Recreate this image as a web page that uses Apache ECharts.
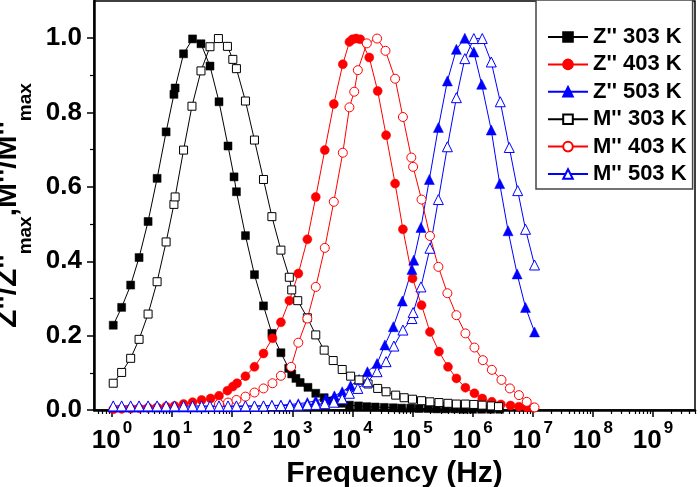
<!DOCTYPE html>
<html><head><meta charset="utf-8">
<script src="https://cdn.jsdelivr.net/npm/echarts@6/dist/echarts.min.js"></script>
<style>html,body{margin:0;padding:0;background:#fff}#c{width:700px;height:487px}</style>
</head><body><div id="c"></div>
<script>
// x values are log10(frequency / Hz)
const xMajorExponents = [0,1,2,3,4,5,6,7,8,9];
const yTickValues = [0,0.2,0.4,0.6,0.8,1.0];
const yMinorValues = [0.1,0.3,0.5,0.7,0.9];

const z303_logf = [0.02,0.16,0.31,0.45,0.60,0.75,0.90,1.03,1.05,1.19,1.34,1.48,1.63,1.78,1.93,2.03,2.07,2.22,2.37,2.52,2.66,2.81,2.94,2.99,3.06,3.13,3.26,3.39,3.53,3.67,3.82,3.95,4.10,4.24,4.38,4.53,4.68,4.82,4.97,5.11,5.26,5.40,5.55,5.70,5.85,6.00,6.15,6.30,6.45];
const z303_val  = [0.228,0.276,0.336,0.41,0.507,0.623,0.748,0.849,0.866,0.958,0.998,0.985,0.925,0.829,0.71,0.627,0.587,0.469,0.364,0.28,0.206,0.154,0.112,0.097,0.085,0.074,0.061,0.045,0.033,0.024,0.018,0.013,0.011,0.009,0.008,0.007,0.006,0.005,0.005,0.004,0.004,0.003,0.003,0.003,0.002,0.002,0.002,0.002,0.002];

const m303_logf = [0.02,0.16,0.31,0.45,0.60,0.75,0.90,1.03,1.05,1.19,1.33,1.48,1.63,1.77,1.92,2.01,2.07,2.22,2.37,2.52,2.66,2.81,2.95,2.99,3.09,3.25,3.39,3.53,3.68,3.83,3.97,4.11,4.26,4.42,4.56,4.72,4.86,5.00,5.15,5.29,5.44,5.59,5.73,5.88,6.02,6.16,6.31,6.43];
const m303_val  = [0.072,0.101,0.139,0.19,0.258,0.345,0.452,0.553,0.573,0.699,0.817,0.912,0.977,0.999,0.978,0.943,0.918,0.831,0.726,0.62,0.52,0.43,0.357,0.323,0.294,0.248,0.202,0.161,0.133,0.109,0.091,0.081,0.07,0.058,0.049,0.04,0.033,0.029,0.025,0.022,0.02,0.018,0.016,0.016,0.015,0.013,0.011,0.009];

const z403_logf = [0.02,0.16,0.31,0.45,0.60,0.75,0.90,1.04,1.19,1.34,1.49,1.64,1.78,1.92,2.01,2.08,2.22,2.37,2.52,2.67,2.81,2.95,3.10,3.25,3.39,3.54,3.69,3.84,3.95,4.00,4.06,4.13,4.28,4.42,4.56,4.71,4.84,5.00,5.15,5.29,5.44,5.59,5.73,5.88,6.03,6.16,6.32,6.47,6.63,6.77,6.90,7.01];
const z403_val  = [0.002,0.003,0.004,0.005,0.006,0.007,0.009,0.011,0.016,0.021,0.027,0.031,0.038,0.052,0.063,0.072,0.091,0.116,0.152,0.193,0.236,0.294,0.367,0.459,0.573,0.699,0.823,0.93,0.99,0.997,0.999,0.997,0.948,0.858,0.739,0.609,0.486,0.354,0.282,0.21,0.157,0.116,0.085,0.06,0.045,0.031,0.022,0.015,0.012,0.009,0.007,0.006];

const m403_logf = [1.78,1.93,2.07,2.22,2.37,2.52,2.67,2.81,2.98,3.10,3.25,3.39,3.54,3.69,3.84,3.95,4.03,4.09,4.24,4.41,4.55,4.71,4.84,4.98,5.01,5.15,5.29,5.43,5.58,5.73,5.88,6.03,6.17,6.32,6.48,6.62,6.77,6.90,7.03];
const m403_val  = [0.016,0.02,0.027,0.036,0.047,0.058,0.072,0.092,0.116,0.181,0.246,0.331,0.436,0.56,0.692,0.814,0.856,0.914,0.986,0.999,0.966,0.891,0.788,0.679,0.654,0.566,0.468,0.385,0.314,0.255,0.206,0.168,0.134,0.108,0.081,0.058,0.04,0.022,0.007];

const z503_logf = [0.02,0.16,0.31,0.45,0.60,0.75,0.90,1.04,1.19,1.34,1.49,1.63,1.78,1.93,2.07,2.22,2.37,2.52,2.66,2.81,2.96,3.10,3.25,3.39,3.56,3.70,3.83,3.97,4.11,4.25,4.41,4.54,4.68,4.83,4.99,5.02,5.14,5.28,5.43,5.58,5.73,5.87,6.02,6.15,6.31,6.45,6.59,6.74,6.88,7.03];
const z503_val  = [0.008,0.008,0.008,0.008,0.008,0.008,0.008,0.008,0.008,0.008,0.008,0.009,0.009,0.009,0.009,0.01,0.01,0.011,0.012,0.013,0.015,0.017,0.02,0.025,0.031,0.038,0.049,0.065,0.082,0.103,0.125,0.175,0.224,0.293,0.378,0.403,0.491,0.62,0.76,0.885,0.97,1.0,0.963,0.876,0.753,0.609,0.482,0.366,0.276,0.21];

const m503_logf = [0.02,0.16,0.31,0.45,0.60,0.75,0.90,1.04,1.19,1.34,1.49,1.63,1.78,1.93,2.07,2.22,2.37,2.52,2.66,2.81,2.96,3.10,3.25,3.39,3.54,3.69,3.83,3.95,4.09,4.25,4.41,4.56,4.69,4.84,4.99,5.01,5.14,5.29,5.43,5.58,5.73,5.87,6.02,6.16,6.31,6.46,6.61,6.75,6.88,7.03];
const m503_val  = [0.011,0.011,0.011,0.011,0.011,0.011,0.011,0.011,0.011,0.011,0.011,0.011,0.011,0.011,0.011,0.011,0.011,0.011,0.012,0.012,0.012,0.013,0.014,0.015,0.017,0.021,0.03,0.045,0.058,0.076,0.103,0.13,0.172,0.215,0.246,0.262,0.331,0.435,0.566,0.708,0.84,0.945,0.999,0.999,0.936,0.829,0.706,0.59,0.486,0.39];

const seriesNames = ["Z'' 303 K","Z'' 403 K","Z'' 503 K","M'' 303 K","M'' 403 K","M'' 503 K"];

const FONT = "'Liberation Sans', Arial, sans-serif";
const xMin = -0.30, xMax = 9.70;

const minorX = [];
for (let n = -1; n <= 9; n++) {
  for (let k = 2; k <= 9; k++) {
    const v = n + Math.log10(k);
    if (v > xMin && v < xMax) minorX.push(v);
  }
}

function pairs(xs, ys) { return xs.map((x, i) => [x, ys[i]]); }

function mk(name, xs, ys, symbol, color, filled, size) {
  return {
    name, type: 'line', data: pairs(xs, ys),
    symbol, symbolSize: size, showSymbol: true,
    lineStyle: { color, width: 1 },
    itemStyle: filled ? { color, borderColor: color, borderWidth: 0.5 } : { color: '#fff', borderColor: color, borderWidth: 1 },
    emphasis: { disabled: true },
    clip: false,
    z: 3
  };
}

const chart = echarts.init(document.getElementById('c'), null, { renderer: 'canvas' });
chart.setOption({
  animation: false,
  backgroundColor: '#fff',
  grid: { left: 94, right: 5, top: 1, bottom: 77, show: true, borderColor: '#000', borderWidth: 1.5, containLabel: false, outerBoundsMode: 'none' },
  legend: {
    data: seriesNames,
    orient: 'vertical', left: 536, top: 0,
    itemWidth: 40, itemHeight: 12, itemGap: 5.4,
    padding: [26, 6, 4, 11],
    backgroundColor: '#fff',
    borderColor: '#444', borderWidth: 1.5, borderRadius: 0,
    textStyle: { fontFamily: FONT, fontSize: 22, fontWeight: 'bold', color: '#000', lineHeight: 22 },
    selectedMode: false
  },
  xAxis: [{
    type: 'value', min: xMin, max: xMax, position: 'bottom',
    axisLine: { show: true, onZero: false, lineStyle: { color: '#000', width: 2.5 } },
    axisTick: { show: true, customValues: xMajorExponents, length: 7, inside: false, lineStyle: { color: '#000', width: 1.5 } },
    splitLine: { show: false },
    axisLabel: {
      customValues: xMajorExponents, margin: 10,
      formatter: v => '{b|10}{s|' + Math.round(v) + '}',
      rich: {
        b: { fontFamily: FONT, fontSize: 26, fontWeight: 'bold', color: '#000', lineHeight: 34, verticalAlign: 'bottom' },
        s: { fontFamily: FONT, fontSize: 17, fontWeight: 'bold', color: '#000', lineHeight: 17, verticalAlign: 'top', padding: [0, 0, 0, 2] }
      }
    },
    name: 'Frequency (Hz)', nameLocation: 'middle', nameGap: 45,
    nameTextStyle: { fontFamily: FONT, fontSize: 30, fontWeight: 'bold', color: '#000' }
  }, {
    type: 'value', min: xMin, max: xMax, position: 'bottom',
    axisLine: { show: false, onZero: false },
    axisTick: { show: true, customValues: minorX, length: 4, inside: false, lineStyle: { color: '#000', width: 1.2 } },
    axisLabel: { show: false }, splitLine: { show: false }
  }],
  yAxis: [{
    type: 'value', min: 0, max: 1.1, position: 'left',
    axisLine: { show: true, onZero: false, lineStyle: { color: '#000', width: 2.5 } },
    axisTick: { show: true, customValues: yTickValues, length: 7, inside: false, lineStyle: { color: '#000', width: 1.5 } },
    splitLine: { show: false },
    axisLabel: { customValues: yTickValues, margin: 12, formatter: v => v.toFixed(1),
      fontFamily: FONT, fontSize: 26, fontWeight: 'bold', color: '#000' },
    name: "{m|Z''/Z''}{sub|max}{m|,M''/M''}{sub|max}", nameLocation: 'middle', nameGap: 56,
    nameTextStyle: {
      fontFamily: FONT, fontSize: 30, fontWeight: 'bold', color: '#000',
      rich: {
        m: { fontFamily: FONT, fontSize: 30, fontWeight: 'bold', color: '#000', lineHeight: 30, verticalAlign: 'top' },
        sub: { fontFamily: FONT, fontSize: 19, fontWeight: 'bold', color: '#000', lineHeight: 42, verticalAlign: 'bottom' }
      }
    }
  }, {
    type: 'value', min: 0, max: 1.1, position: 'left',
    axisLine: { show: false, onZero: false },
    axisTick: { show: true, customValues: yMinorValues, length: 4, inside: false, lineStyle: { color: '#000', width: 1.2 } },
    axisLabel: { show: false }, splitLine: { show: false }
  }],
  series: [
    mk(seriesNames[0], z303_logf, z303_val, 'rect', '#000000', true, 8),
    mk(seriesNames[1], z403_logf, z403_val, 'circle', '#ff0000', true, 9),
    mk(seriesNames[2], z503_logf, z503_val, 'triangle', '#0000ff', true, 10),
    mk(seriesNames[3], m303_logf, m303_val, 'rect', '#000000', false, 8),
    mk(seriesNames[4], m403_logf, m403_val, 'circle', '#ff0000', false, 9),
    mk(seriesNames[5], m503_logf, m503_val, 'triangle', '#0000ff', false, 10)
  ]
});
</script>
</body></html>
